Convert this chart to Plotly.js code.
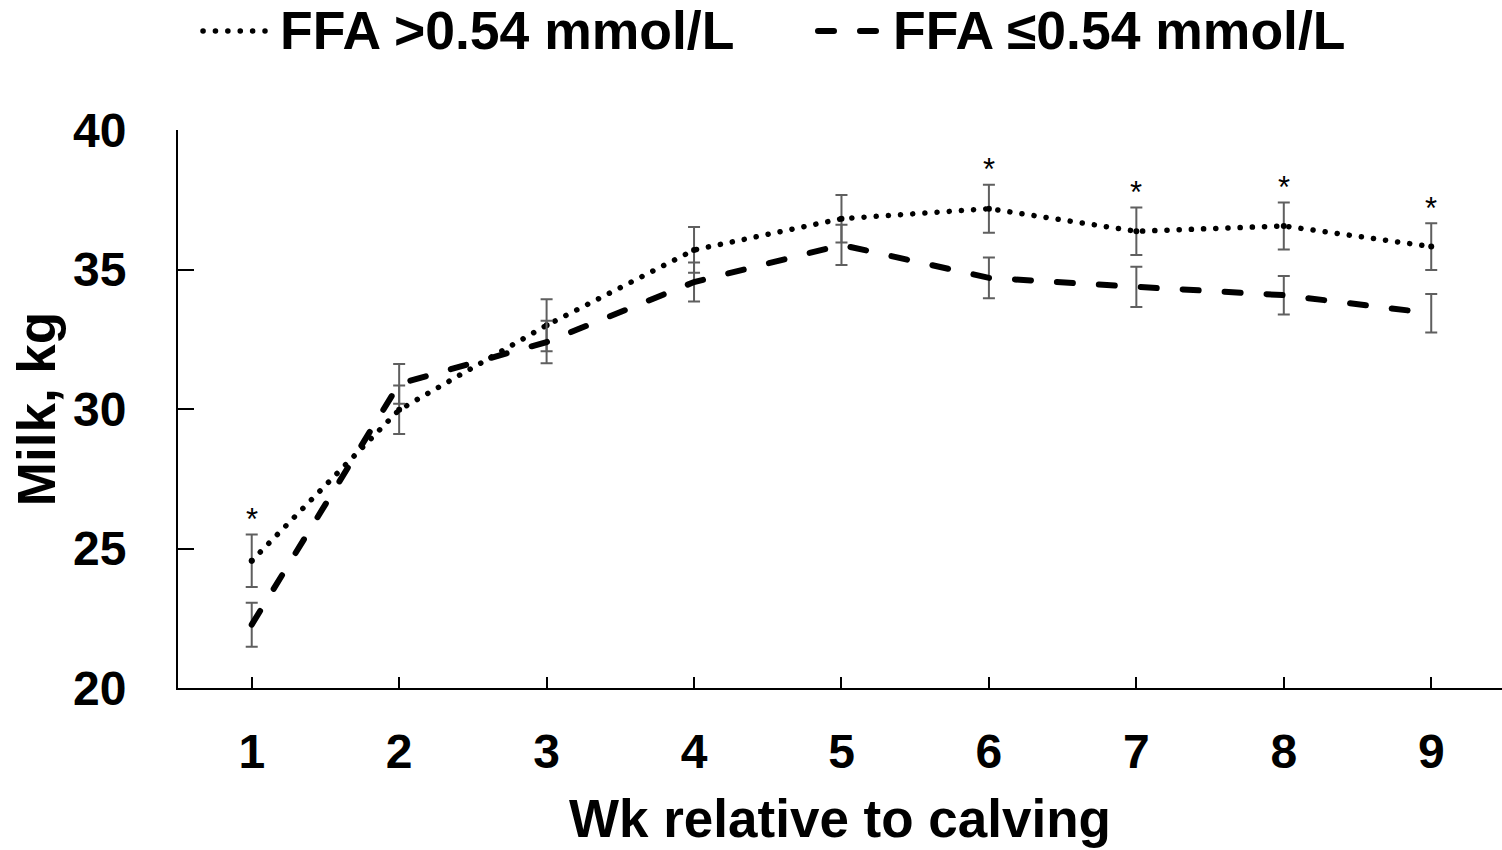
<!DOCTYPE html>
<html>
<head>
<meta charset="utf-8">
<script src="https://cdn.plot.ly/plotly-3.0.1.min.js"></script>
<style>
  html, body { margin: 0; padding: 0; background: #fff; }
  #chart { width: 1502px; height: 850px; }
</style>
</head>
<body>
<div id="chart"></div>
<script>
// Weeks relative to calving
const weeks = [1, 2, 3, 4, 5, 6, 7, 8, 9];

// Milk yield (kg/d), cows with FFA > 0.54 mmol/L
const milkHigh = [24.56, 29.97, 33.00, 35.70, 36.82, 37.18, 36.37, 36.56, 35.82];
const seHigh   = [0.94, 0.87, 0.93, 0.82, 0.85, 0.86, 0.85, 0.84, 0.84];

// Milk yield (kg/d), cows with FFA <= 0.54 mmol/L
const milkLow = [22.27, 30.90, 32.40, 34.55, 35.88, 34.70, 34.38, 34.08, 33.43];
const seLow   = [0.79, 0.71, 0.76, 0.70, 0.72, 0.73, 0.72, 0.69, 0.69];

// Weeks with a significant group difference
const sigWeeks = [1, 6, 7, 8, 9];

const seriesNames = ['FFA >0.54 mmol/L', 'FFA \u22640.54 mmol/L'];

const FONT = 'Liberation Sans, Arial, Helvetica, sans-serif';
const ERR_COLOR = '#5f5f5f';

const DOT_DASH = '0.1px,12.1px';
const DASH_DASH = '16px,26px';

const traces = [
  {
    x: weeks, y: milkHigh, name: seriesNames[0], type: 'scatter', mode: 'lines+markers',
    line: { color: '#000', width: 5.5, dash: DOT_DASH },
    marker: { color: '#000', size: 6 },
    error_y: { type: 'data', array: seHigh, visible: true, color: ERR_COLOR, thickness: 2, width: 6 }
  },
  {
    x: weeks, y: milkLow, name: seriesNames[1], type: 'scatter', mode: 'lines',
    line: { color: '#000', width: 6, dash: DASH_DASH },
    error_y: { type: 'data', array: seLow, visible: true, color: ERR_COLOR, thickness: 2, width: 6 }
  }
];

// Significance marks above the upper error bar
const annotations = sigWeeks.map(w => {
  const i = weeks.indexOf(w);
  return {
    x: w, y: milkHigh[i] + seHigh[i], xref: 'x', yref: 'y',
    text: '*', showarrow: false, yanchor: 'middle', yshift: 15,
    font: { family: FONT, size: 31, color: '#000' }
  };
});

// Legend row across the top (paper coordinates)
const plotLeft = 178, plotWidth = 1324, plotBottom = 688, plotHeight = 558;
const px = v => (v - plotLeft) / plotWidth;
const py = v => (plotBottom - v) / plotHeight;
const legendY = py(31);

const legendFont = { family: FONT, size: 53.5, weight: 'bold', color: '#000' };
annotations.push(
  { xref: 'paper', yref: 'paper', x: px(278), y: legendY, xanchor: 'left', yanchor: 'middle',
    text: seriesNames[0], showarrow: false, font: legendFont },
  { xref: 'paper', yref: 'paper', x: px(891), y: legendY, xanchor: 'left', yanchor: 'middle',
    text: seriesNames[1], showarrow: false, font: legendFont }
);

const shapes = [
  { type: 'line', xref: 'paper', yref: 'paper', x0: px(203), x1: px(265), y0: legendY, y1: legendY,
    line: { color: '#000', width: 5.5, dash: '0.1px,12.3px' } },
  { type: 'line', xref: 'paper', yref: 'paper', x0: px(818), x1: px(876), y0: legendY, y1: legendY,
    line: { color: '#000', width: 6, dash: DASH_DASH } }
];

const axisFont = { family: FONT, size: 48, weight: 'bold', color: '#000' };
const titleFont = { family: FONT, size: 53, weight: 'bold', color: '#000' };

const layout = {
  width: 1502, height: 850,
  margin: { l: plotLeft, r: 0, t: 130, b: 162 },
  paper_bgcolor: '#fff', plot_bgcolor: '#fff',
  showlegend: false,
  xaxis: {
    range: [0.5, 9.48], tickvals: weeks, ticktext: weeks.map(String),
    showline: true, linecolor: '#000', linewidth: 2,
    ticks: 'inside', ticklen: 11, tickwidth: 2, tickcolor: '#000',
    showgrid: false, zeroline: false,
    tickfont: axisFont, ticklabelstandoff: 20,
    title: { text: 'Wk relative to calving', font: titleFont, standoff: 23 },
    automargin: false
  },
  yaxis: {
    range: [20, 40], dtick: 5, tick0: 20,
    showline: true, linecolor: '#000', linewidth: 2,
    ticks: 'inside', ticklen: 16, tickwidth: 2, tickcolor: '#000',
    showgrid: false, zeroline: false,
    tickfont: axisFont, ticklabelstandoff: 40,
    title: { text: 'Milk, kg', font: titleFont, standoff: 0 },
    automargin: false
  },
  annotations: annotations,
  shapes: shapes
};

Plotly.newPlot('chart', traces, layout, { displayModeBar: false, staticPlot: true }).then(gd => {
  // Round caps turn the short dash segments into dots and rounded dashes
  gd.querySelectorAll('.scatterlayer .js-line, .shapelayer path').forEach(p => {
    p.style.strokeLinecap = 'round';
  });
});
</script>
</body>
</html>
